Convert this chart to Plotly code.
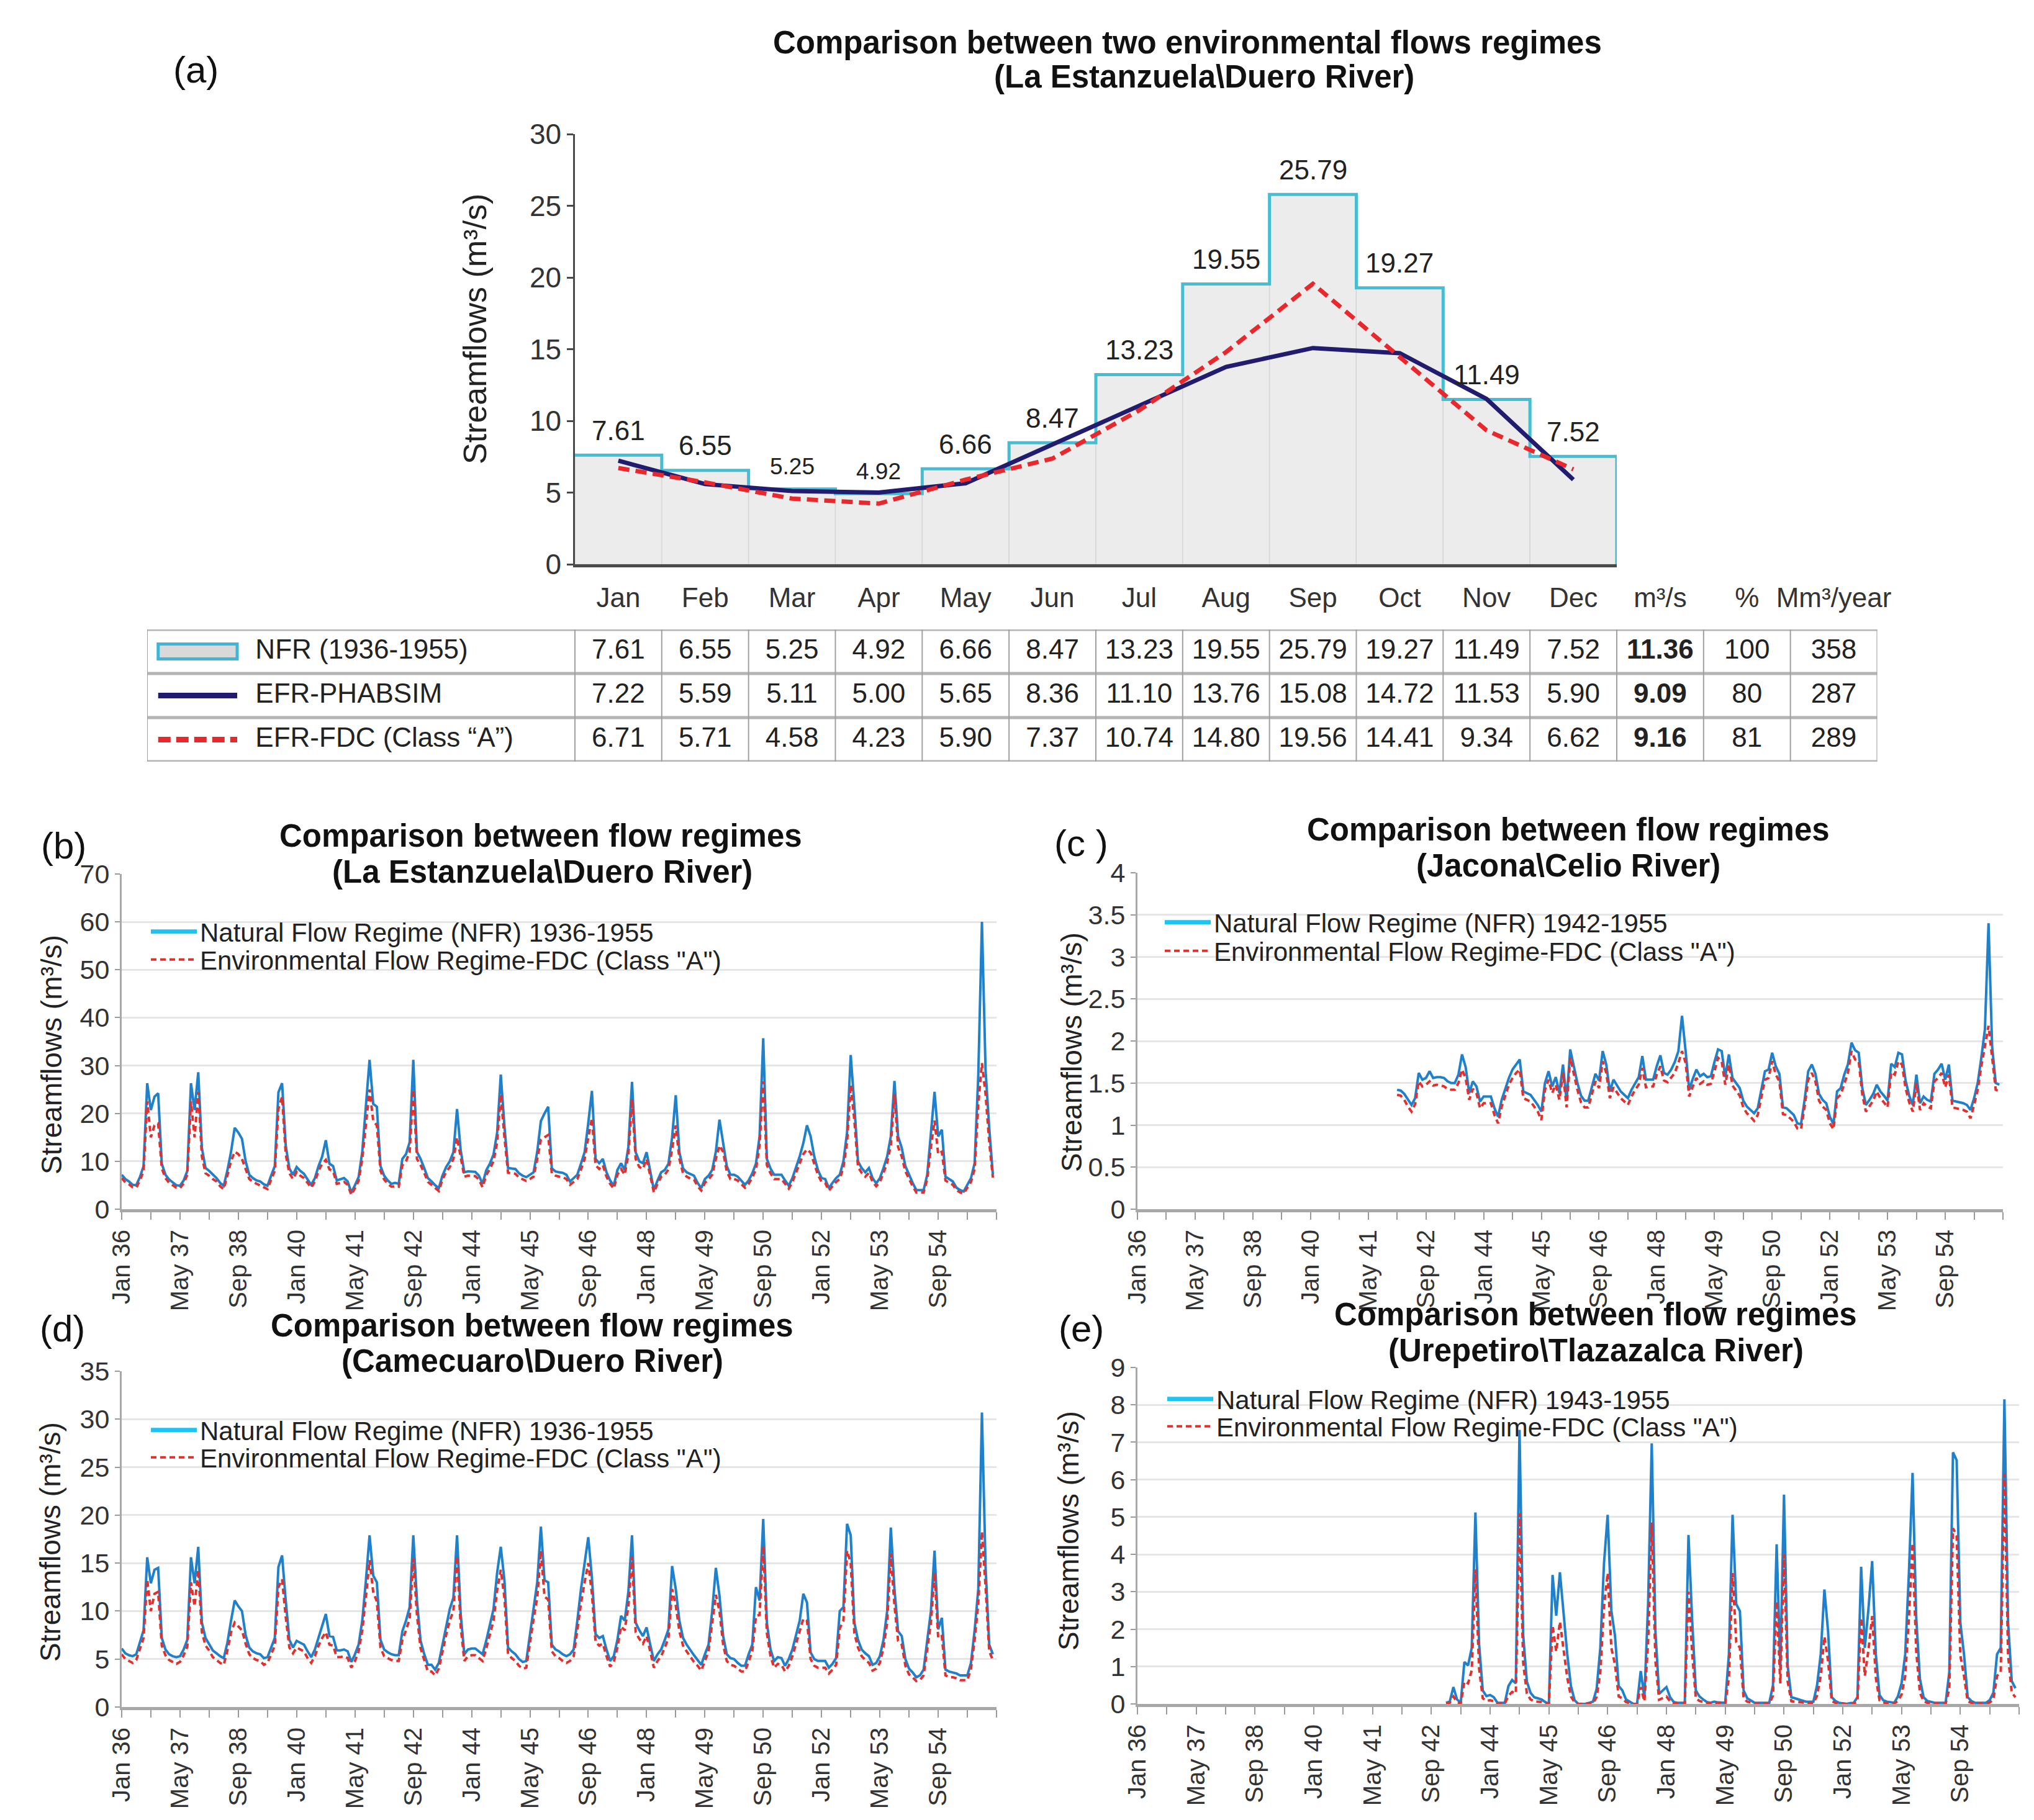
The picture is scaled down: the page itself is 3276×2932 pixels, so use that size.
import plotly.graph_objects as go

W, H = 3276, 2932
PAD = 8  # default body margin of the html page
FW, FH = W - 2 * PAD, H - 2 * PAD
FONT = 'Liberation Sans, Arial, Helvetica, sans-serif'


def fx(p):
    return (p - PAD) / FW


def fy(p):
    return 1 - (p - PAD) / FH


# ---------------- (a) monthly regime data ----------------
months = ['Jan', 'Feb', 'Mar', 'Apr', 'May', 'Jun', 'Jul', 'Aug', 'Sep', 'Oct', 'Nov', 'Dec']
unit_cols = ['m³/s', '%', 'Mm³/year']
nfr_a = [7.61, 6.55, 5.25, 4.92, 6.66, 8.47, 13.23, 19.55, 25.79, 19.27, 11.49, 7.52]
phabsim_a = [7.22, 5.59, 5.11, 5.00, 5.65, 8.36, 11.10, 13.76, 15.08, 14.72, 11.53, 5.90]
fdc_a = [6.71, 5.71, 4.58, 4.23, 5.90, 7.37, 10.74, 14.80, 19.56, 14.41, 9.34, 6.62]
row_names = ['NFR (1936-1955)', 'EFR-PHABSIM', 'EFR-FDC (Class “A”)']
row_mean = ['11.36', '9.09', '9.16']
row_pct = ['100', '80', '81']
row_vol = ['358', '287', '289']

# ---------------- time-series tick labels ----------------
ts_ticklabels = ['Jan 36', 'May 37', 'Sep 38', 'Jan 40', 'May 41', 'Sep 42', 'Jan 44', 'May 45',
                 'Sep 46', 'Jan 48', 'May 49', 'Sep 50', 'Jan 52', 'May 53', 'Sep 54']
first_year = 1936

# ---------------- (b) La Estanzuela \ Duero (1936-1955) ----------------
nfr_b = [
    7.2, 6.3, 5.8, 5.1, 5.0, 6.7, 9.0, 26.3, 20.7, 23.5, 24.2, 9.5,
    7.2, 6.2, 5.6, 5.0, 4.9, 6.0, 8.0, 26.3, 20.7, 28.6, 12.8, 8.6,
    8.0, 7.2, 6.5, 5.5, 4.9, 8.1, 12.0, 17.0, 16.0, 14.7, 10.0, 7.2,
    6.5, 6.0, 5.8, 5.2, 4.9, 7.0, 9.0, 24.4, 26.3, 13.3, 8.5, 7.2,
    8.8, 8.0, 7.4, 6.2, 5.1, 6.5, 9.0, 11.0, 14.4, 9.5, 9.0, 6.0,
    6.2, 6.5, 5.8, 3.5, 5.0, 6.7, 12.0, 21.6, 31.2, 22.0, 21.4, 9.0,
    7.0, 6.0, 5.3, 5.5, 5.3, 10.5, 11.5, 14.0, 31.2, 12.0, 10.5, 8.6,
    6.5, 5.8, 5.0, 4.4, 7.0, 8.8, 10.0, 11.9, 20.9, 12.3, 7.7, 7.9,
    7.9, 7.8, 7.0, 5.3, 8.1, 9.5, 11.4, 16.0, 28.1, 17.4, 8.6, 8.5,
    8.4, 7.5, 7.0, 6.7, 7.2, 7.7, 12.0, 18.4, 20.0, 21.4, 8.5, 7.9,
    7.7, 7.6, 7.2, 5.8, 6.5, 7.2, 9.5, 11.9, 18.0, 24.7, 10.5, 9.6,
    10.5, 7.7, 6.0, 4.9, 8.2, 9.6, 8.2, 13.0, 26.6, 11.9, 10.0, 9.6,
    11.9, 8.2, 4.0, 6.0, 7.7, 8.2, 9.5, 15.0, 23.8, 11.9, 8.5, 7.7,
    7.3, 7.0, 5.5, 4.4, 6.3, 7.0, 8.2, 12.0, 18.7, 14.0, 9.0, 7.2,
    7.2, 6.8, 6.0, 5.1, 6.0, 7.5, 9.5, 15.2, 35.7, 10.5, 8.5, 7.2,
    7.2, 7.2, 6.0, 4.9, 6.5, 8.6, 11.0, 13.8, 17.5, 15.2, 11.0, 8.2,
    6.5, 6.3, 4.4, 5.5, 6.5, 7.2, 10.0, 16.0, 32.2, 21.7, 10.0, 8.6,
    7.7, 8.6, 6.5, 5.4, 6.5, 8.6, 11.0, 15.2, 26.8, 15.2, 12.8, 9.0,
    7.2, 5.5, 4.0, 4.0, 4.0, 7.2, 15.2, 24.5, 15.2, 16.6, 6.8, 6.3,
    5.8, 4.5, 4.0, 3.7, 5.0, 6.5, 9.6, 28.0, 60.0, 29.0, 17.0, 7.2,
]
efr_b = [
    6.5, 5.6, 5.2, 4.6, 4.5, 6.0, 8.0, 22.5, 15.0, 17.5, 17.9, 8.5,
    6.5, 5.5, 5.0, 4.5, 4.4, 5.4, 7.2, 22.5, 15.0, 24.5, 11.0, 7.5,
    7.0, 6.3, 5.8, 4.8, 4.2, 7.2, 10.0, 12.0, 11.5, 10.5, 8.5, 6.3,
    5.7, 5.3, 5.0, 4.6, 4.2, 6.2, 8.0, 21.0, 23.5, 11.5, 7.5, 6.3,
    7.8, 7.0, 6.5, 5.5, 4.5, 5.8, 8.0, 9.5, 10.3, 8.3, 8.0, 5.3,
    5.5, 5.7, 5.1, 3.0, 4.4, 5.9, 10.5, 18.0, 25.0, 18.5, 17.5, 8.0,
    6.2, 5.3, 4.7, 4.8, 4.7, 9.2, 10.0, 12.0, 25.0, 10.5, 9.2, 7.6,
    5.7, 5.1, 4.4, 3.8, 6.2, 7.8, 8.8, 10.5, 15.0, 10.8, 6.8, 7.0,
    7.0, 6.9, 6.2, 4.6, 7.1, 8.4, 10.0, 14.0, 24.0, 15.0, 7.6, 7.5,
    7.4, 6.6, 6.2, 5.9, 6.3, 6.8, 10.5, 14.5, 15.0, 15.5, 7.5, 7.0,
    6.8, 6.7, 6.3, 5.1, 5.7, 6.3, 8.3, 10.5, 15.0, 19.0, 9.2, 8.4,
    9.2, 6.8, 5.3, 4.3, 7.2, 8.4, 7.2, 11.4, 23.0, 10.5, 8.8, 8.4,
    10.5, 7.2, 3.5, 5.3, 6.8, 7.2, 8.3, 12.5, 17.5, 10.5, 7.5, 6.8,
    6.4, 6.2, 4.8, 3.9, 5.5, 6.2, 7.2, 10.5, 13.3, 12.0, 7.9, 6.3,
    6.3, 6.0, 5.3, 4.5, 5.3, 6.6, 8.3, 13.4, 26.7, 9.2, 7.5, 6.3,
    6.3, 6.3, 5.3, 4.3, 5.7, 7.6, 9.7, 11.5, 12.5, 11.8, 9.5, 7.2,
    5.7, 5.5, 3.9, 4.8, 5.7, 6.3, 8.8, 14.0, 26.0, 18.5, 8.8, 7.6,
    6.8, 7.6, 5.7, 4.8, 5.7, 7.6, 9.7, 13.4, 24.0, 13.0, 11.0, 7.9,
    6.3, 4.8, 3.5, 3.5, 3.5, 6.3, 13.0, 18.5, 11.5, 12.0, 6.0, 5.5,
    5.1, 4.0, 3.5, 3.3, 4.4, 5.7, 8.4, 22.0, 30.5, 24.0, 14.0, 6.6,
]
start_b = 1936

# ---------------- (c) Jacona \ Celio (1942-1955) ----------------
nfr_c = [
    1.42, 1.41, 1.37, 1.30, 1.24, 1.32, 1.62, 1.54, 1.56, 1.64, 1.56, 1.57,
    1.57, 1.56, 1.52, 1.50, 1.50, 1.60, 1.84, 1.69, 1.38, 1.52, 1.46, 1.28,
    1.34, 1.34, 1.34, 1.20, 1.10, 1.30, 1.44, 1.56, 1.66, 1.72, 1.78, 1.40,
    1.38, 1.36, 1.30, 1.24, 1.16, 1.50, 1.64, 1.46, 1.57, 1.38, 1.72, 1.29,
    1.90, 1.70, 1.50, 1.35, 1.29, 1.29, 1.45, 1.61, 1.53, 1.88, 1.72, 1.40,
    1.54, 1.47, 1.40, 1.36, 1.32, 1.42, 1.50, 1.57, 1.82, 1.54, 1.54, 1.54,
    1.70, 1.83, 1.62, 1.60, 1.66, 1.75, 1.88, 2.30, 1.88, 1.42, 1.55, 1.66,
    1.58, 1.61, 1.57, 1.58, 1.75, 1.90, 1.88, 1.57, 1.84, 1.56, 1.50, 1.44,
    1.29, 1.22, 1.18, 1.14, 1.20, 1.42, 1.64, 1.66, 1.86, 1.70, 1.61, 1.21,
    1.20, 1.16, 1.12, 1.02, 1.01, 1.30, 1.64, 1.72, 1.61, 1.37, 1.30, 1.26,
    1.10, 1.01, 1.40, 1.44, 1.60, 1.72, 1.98, 1.89, 1.86, 1.44, 1.24, 1.30,
    1.37, 1.48, 1.40, 1.35, 1.29, 1.73, 1.69, 1.86, 1.84, 1.53, 1.35, 1.24,
    1.60, 1.26, 1.34, 1.30, 1.28, 1.61, 1.66, 1.73, 1.54, 1.72, 1.29, 1.28,
    1.27, 1.26, 1.24, 1.18, 1.32, 1.50, 1.80, 2.14, 3.40, 1.93, 1.50, 1.48,
]
efr_c = [
    1.36, 1.35, 1.30, 1.22, 1.16, 1.25, 1.52, 1.46, 1.48, 1.52, 1.47, 1.48,
    1.47, 1.46, 1.43, 1.42, 1.42, 1.50, 1.66, 1.56, 1.30, 1.43, 1.38, 1.20,
    1.26, 1.26, 1.26, 1.12, 1.02, 1.22, 1.36, 1.48, 1.56, 1.62, 1.66, 1.32,
    1.30, 1.28, 1.22, 1.16, 1.06, 1.42, 1.54, 1.38, 1.48, 1.30, 1.62, 1.21,
    1.80, 1.60, 1.42, 1.27, 1.21, 1.21, 1.37, 1.52, 1.44, 1.76, 1.62, 1.32,
    1.45, 1.39, 1.32, 1.28, 1.24, 1.34, 1.42, 1.48, 1.68, 1.45, 1.46, 1.46,
    1.60, 1.70, 1.53, 1.51, 1.56, 1.62, 1.74, 1.88, 1.74, 1.34, 1.46, 1.56,
    1.49, 1.52, 1.48, 1.49, 1.64, 1.80, 1.76, 1.48, 1.72, 1.47, 1.41, 1.35,
    1.21, 1.14, 1.10, 1.05, 1.12, 1.34, 1.54, 1.56, 1.76, 1.60, 1.52, 1.13,
    1.12, 1.08, 1.04, 0.96, 0.95, 1.22, 1.54, 1.62, 1.52, 1.29, 1.22, 1.18,
    1.02, 0.95, 1.32, 1.36, 1.50, 1.62, 1.88, 1.78, 1.76, 1.36, 1.16, 1.22,
    1.29, 1.40, 1.32, 1.27, 1.21, 1.63, 1.60, 1.76, 1.72, 1.44, 1.27, 1.16,
    1.50, 1.18, 1.26, 1.22, 1.20, 1.52, 1.56, 1.62, 1.45, 1.60, 1.21, 1.20,
    1.19, 1.18, 1.16, 1.08, 1.24, 1.42, 1.70, 1.95, 2.18, 1.80, 1.42, 1.40,
]
start_c = 1942

# ---------------- (d) Camecuaro \ Duero (1936-1955) ----------------
nfr_d = [
    6.1, 5.6, 5.4, 5.3, 5.5, 6.7, 8.0, 15.6, 12.9, 14.3, 14.5, 7.2,
    6.0, 5.5, 5.3, 5.2, 5.3, 6.0, 7.0, 15.6, 12.9, 16.7, 8.8, 7.2,
    6.6, 5.9, 5.6, 5.3, 5.1, 6.7, 9.0, 11.1, 10.5, 10.0, 7.5, 6.2,
    5.8, 5.6, 5.5, 5.1, 5.2, 6.2, 7.2, 14.6, 15.8, 11.1, 7.0, 6.2,
    6.9, 6.7, 6.5, 5.8, 5.2, 6.0, 7.2, 8.5, 9.7, 7.4, 7.3, 5.9,
    5.9, 6.0, 5.8, 4.7, 5.5, 6.5, 9.0, 13.2, 17.9, 13.7, 13.0, 7.0,
    6.0, 5.7, 5.5, 5.4, 5.4, 7.9, 9.0, 10.4, 17.9, 11.1, 6.9, 5.5,
    4.4, 4.4, 3.9, 4.6, 6.5, 8.5, 10.2, 11.4, 17.9, 9.7, 5.5, 6.0,
    6.1, 6.1, 5.8, 5.5, 6.9, 8.5, 10.2, 14.0, 16.7, 13.2, 6.2, 5.8,
    5.5, 5.0, 4.7, 4.8, 7.6, 10.4, 13.0, 18.8, 13.2, 13.0, 6.5, 6.0,
    5.8, 5.5, 5.3, 5.5, 6.0, 9.0, 12.3, 15.0, 17.7, 13.5, 7.6, 7.2,
    7.4, 6.0, 4.8, 5.3, 7.0, 9.5, 9.0, 12.0, 17.9, 8.8, 8.0, 7.4,
    8.3, 6.5, 4.8, 5.5, 6.0, 7.0, 8.1, 14.7, 12.3, 9.0, 7.2, 6.5,
    5.9, 5.4, 4.9, 4.4, 5.5, 6.5, 10.0, 14.5, 11.6, 7.4, 5.5, 5.1,
    5.0, 4.6, 4.3, 4.3, 5.5, 6.5, 12.5, 11.1, 19.6, 8.8, 6.0, 4.8,
    5.2, 5.1, 4.3, 5.0, 6.0, 7.5, 9.0, 11.8, 10.9, 5.7, 5.0, 4.8,
    4.8, 4.8, 4.1, 4.5, 5.1, 10.0, 10.4, 19.1, 17.9, 8.8, 7.0, 6.0,
    5.6, 5.3, 4.4, 4.6, 5.3, 7.0, 10.0, 18.7, 12.3, 7.9, 7.4, 5.0,
    4.0, 3.6, 3.1, 3.3, 3.9, 7.0, 10.0, 16.3, 8.1, 9.3, 3.9, 3.7,
    3.6, 3.5, 3.3, 3.3, 3.3, 4.6, 8.0, 12.3, 30.7, 14.6, 6.5, 5.5,
]
efr_d = [
    5.5, 5.0, 4.8, 4.6, 4.9, 6.0, 7.2, 13.3, 10.0, 11.8, 12.0, 6.4,
    5.4, 4.9, 4.7, 4.5, 4.7, 5.4, 6.3, 13.0, 10.5, 14.3, 7.8, 6.4,
    5.9, 5.2, 4.9, 4.6, 4.4, 5.9, 7.8, 8.8, 8.4, 8.0, 6.6, 5.5,
    5.1, 4.9, 4.8, 4.4, 4.6, 5.5, 6.4, 12.5, 13.3, 9.4, 6.2, 5.6,
    6.2, 6.0, 5.8, 5.1, 4.6, 5.3, 6.4, 7.2, 7.8, 6.5, 6.4, 5.2,
    5.2, 5.3, 5.1, 4.1, 4.8, 5.8, 8.0, 11.5, 15.3, 12.0, 11.0, 6.2,
    5.3, 5.1, 4.9, 4.8, 4.8, 7.0, 8.0, 9.2, 15.5, 9.6, 6.1, 4.9,
    3.7, 3.7, 3.3, 4.0, 5.8, 7.5, 9.0, 10.0, 15.7, 8.4, 4.8, 5.3,
    5.4, 5.4, 5.1, 4.8, 6.1, 7.5, 9.0, 12.2, 14.3, 11.4, 5.5, 5.1,
    4.8, 4.3, 4.0, 4.1, 6.7, 9.2, 11.4, 16.3, 11.5, 11.2, 5.8, 5.3,
    5.1, 4.8, 4.6, 4.8, 5.3, 8.0, 10.8, 13.0, 15.0, 11.8, 6.8, 6.4,
    6.6, 5.3, 4.2, 4.7, 6.2, 8.4, 8.0, 10.5, 15.7, 7.8, 7.1, 6.6,
    7.4, 5.8, 4.1, 4.8, 5.3, 6.2, 7.2, 12.3, 10.6, 7.9, 6.4, 5.8,
    5.2, 4.7, 4.3, 3.8, 4.8, 5.8, 8.8, 11.7, 10.0, 6.5, 4.8, 4.4,
    4.3, 4.0, 3.7, 3.7, 4.8, 5.8, 9.5, 9.6, 16.8, 7.7, 5.3, 4.1,
    4.5, 4.4, 3.7, 4.3, 5.3, 6.6, 7.9, 9.2, 9.0, 5.0, 4.3, 4.1,
    4.1, 4.1, 3.5, 3.9, 4.4, 8.2, 9.0, 16.3, 15.0, 7.7, 6.2, 5.3,
    4.9, 4.6, 3.8, 4.0, 4.6, 6.2, 8.8, 16.0, 10.6, 6.9, 6.5, 4.3,
    3.4, 3.1, 2.7, 2.8, 3.3, 6.2, 8.8, 14.0, 7.2, 7.4, 3.3, 3.1,
    3.1, 3.0, 2.8, 2.8, 2.8, 4.0, 7.0, 10.8, 18.3, 12.5, 5.8, 4.9,
]
start_d = 1936

# ---------------- (e) Urepetiro \ Tlazazalca (1943-1955) ----------------
nfr_e = [
    0.03, 0.06, 0.45, 0.12, 0.03, 1.12, 1.03, 1.50, 5.12, 1.60, 0.36, 0.21,
    0.24, 0.18, 0.03, 0.03, 0.03, 0.48, 0.64, 0.55, 7.33, 1.85, 0.60, 0.30,
    0.18, 0.15, 0.12, 0.05, 0.00, 3.45, 2.36, 3.52, 2.40, 1.33, 0.48, 0.10,
    0.00, 0.00, 0.00, 0.03, 0.06, 0.40, 1.50, 3.76, 5.06, 2.50, 1.82, 0.48,
    0.36, 0.12, 0.05, 0.00, 0.00, 0.88, 0.18, 2.67, 6.97, 1.94, 0.27, 0.36,
    0.45, 0.18, 0.05, 0.03, 0.03, 0.03, 4.52, 2.24, 0.36, 0.20, 0.12, 0.05,
    0.03, 0.06, 0.04, 0.03, 0.03, 1.33, 5.06, 2.67, 2.48, 0.36, 0.15, 0.09,
    0.03, 0.03, 0.03, 0.03, 0.03, 0.50, 4.27, 0.97, 5.60, 1.03, 0.18, 0.15,
    0.12, 0.08, 0.06, 0.06, 0.06, 0.50, 1.33, 3.06, 1.94, 0.18, 0.08, 0.03,
    0.02, 0.00, 0.02, 0.03, 0.18, 3.67, 1.50, 2.55, 3.82, 1.33, 0.24, 0.10,
    0.06, 0.04, 0.03, 0.20, 0.55, 1.33, 3.50, 6.18, 2.30, 0.67, 0.18, 0.08,
    0.05, 0.03, 0.03, 0.03, 0.03, 0.85, 6.73, 6.52, 2.18, 1.33, 0.18, 0.08,
    0.03, 0.03, 0.03, 0.03, 0.10, 0.30, 1.33, 1.50, 8.15, 2.18, 0.61, 0.42,
]
efr_e = [
    0.01, 0.03, 0.20, 0.05, 0.01, 0.60, 0.55, 0.90, 3.60, 0.95, 0.15, 0.08,
    0.10, 0.07, 0.01, 0.01, 0.01, 0.22, 0.32, 0.28, 5.10, 1.10, 0.28, 0.12,
    0.07, 0.06, 0.05, 0.02, 0.00, 2.10, 1.40, 2.20, 1.45, 0.70, 0.20, 0.04,
    0.00, 0.00, 0.00, 0.01, 0.02, 0.18, 0.85, 2.60, 3.50, 1.50, 1.05, 0.20,
    0.15, 0.05, 0.02, 0.00, 0.00, 0.45, 0.07, 1.65, 4.85, 1.15, 0.11, 0.15,
    0.20, 0.07, 0.02, 0.01, 0.01, 0.01, 3.00, 1.35, 0.15, 0.08, 0.05, 0.02,
    0.01, 0.03, 0.02, 0.01, 0.01, 0.70, 3.50, 1.65, 1.50, 0.15, 0.06, 0.04,
    0.01, 0.01, 0.01, 0.01, 0.01, 0.22, 2.75, 0.55, 4.00, 0.60, 0.07, 0.06,
    0.05, 0.03, 0.02, 0.02, 0.02, 0.22, 0.75, 1.80, 1.15, 0.07, 0.03, 0.01,
    0.01, 0.00, 0.01, 0.01, 0.07, 2.30, 0.75, 1.45, 2.35, 0.70, 0.10, 0.04,
    0.02, 0.02, 0.01, 0.08, 0.25, 0.75, 2.30, 4.30, 1.40, 0.30, 0.07, 0.03,
    0.02, 0.01, 0.01, 0.01, 0.01, 0.40, 4.70, 4.50, 1.30, 0.75, 0.07, 0.03,
    0.01, 0.01, 0.01, 0.01, 0.04, 0.12, 0.75, 0.85, 6.15, 1.30, 0.30, 0.18,
]
start_e = 1943

# ============================================================
fig = go.Figure()

# ---- (a) step/bar chart ----
xc = [i + 0.5 for i in range(len(months))]
fig.add_trace(go.Bar(x=xc, y=nfr_a, width=1, xaxis='x', yaxis='y', showlegend=False,
                     marker=dict(color='#ececec', line=dict(color='#d6d6d6', width=1.5)),
                     hoverinfo='skip'))
step_x = list(range(len(nfr_a) + 1)) + [len(nfr_a)]
step_y = nfr_a + [nfr_a[-1], 0]
fig.add_trace(go.Scatter(x=step_x, y=step_y, mode='lines', xaxis='x', yaxis='y', showlegend=False,
                         line=dict(color='#45bdd3', width=5, shape='hv'), hoverinfo='skip'))
fig.add_trace(go.Scatter(x=xc, y=phabsim_a, mode='lines', xaxis='x', yaxis='y', showlegend=False,
                         line=dict(color='#211c6e', width=7), hoverinfo='skip'))
fig.add_trace(go.Scatter(x=xc, y=fdc_a, mode='lines', xaxis='x', yaxis='y', showlegend=False,
                         line=dict(color='#e8282c', width=7, dash='18px,10px'), hoverinfo='skip'))

annotations = []
for i, v in enumerate(nfr_a):
    small = v < 5.5
    annotations.append(dict(x=xc[i], y=v, xref='x', yref='y', text=f'{v:.2f}', showarrow=False,
                            yanchor='middle', yshift=36 if small else 40,
                            font=dict(size=37 if small else 44, color='#222')))

# ---- (a) table ----
tbl_x, tbl_y, tbl_t = [], [], []
for r, vals in enumerate([nfr_a, phabsim_a, fdc_a]):
    for c, v in enumerate(vals):
        tbl_x.append(xc[c])
        tbl_y.append(r)
        tbl_t.append(f'{v:.2f}')
    for j, t in enumerate([f'<b>{row_mean[r]}</b>', row_pct[r], row_vol[r]]):
        tbl_x.append(len(months) + j + 0.5)
        tbl_y.append(r)
        tbl_t.append(t)
fig.add_trace(go.Scatter(x=tbl_x, y=tbl_y, text=tbl_t, mode='text', xaxis='x2', yaxis='y2',
                         showlegend=False, textfont=dict(size=44, color='#222'), hoverinfo='skip'))
fig.add_trace(go.Scatter(x=[-3.68] * len(row_names), y=list(range(len(row_names))), text=row_names,
                         mode='text', textposition='middle right', xaxis='x2', yaxis='y2',
                         showlegend=False, textfont=dict(size=44, color='#222'), hoverinfo='skip'))

TL, TR = -4.927, 15
shapes = []
for yy in [-0.5, 0.5, 1.5, 2.5]:
    shapes.append(dict(type='line', xref='x2', yref='y2', x0=TL, x1=TR, y0=yy, y1=yy,
                       line=dict(color='#b4b4b4', width=5)))
for xx in [TL] + list(range(0, 16)):
    shapes.append(dict(type='line', xref='x2', yref='y2', x0=xx, x1=xx, y0=-0.5, y1=2.5,
                       line=dict(color='#a0a0a0', width=2)))
# legend symbols inside the table
shapes.append(dict(type='rect', xref='x2', yref='y2', x0=-4.80, x1=-3.89, y0=-0.17, y1=0.17,
                   fillcolor='#d9d9d9', line=dict(color='#3fb6d8', width=5)))
shapes.append(dict(type='line', xref='x2', yref='y2', x0=-4.80, x1=-3.89, y0=1, y1=1,
                   line=dict(color='#211c6e', width=9)))
shapes.append(dict(type='line', xref='x2', yref='y2', x0=-4.80, x1=-3.89, y0=2, y1=2,
                   line=dict(color='#e8282c', width=9, dash='20px,9px')))


# ---- time series panels ----
def add_ts(nfr, efr, start, xa, ya, leg_nfr, leg_efr, label_years):
    off = (start - first_year) * 12
    xs = list(range(off, off + len(nfr)))
    fig.add_trace(go.Scatter(x=[None], y=[None], mode='lines', xaxis=xa, yaxis=ya, legend=leg_nfr,
                             name=f'Natural Flow Regime (NFR) {label_years}',
                             line=dict(color='#1cc3f3', width=7)))
    fig.add_trace(go.Scatter(x=xs, y=nfr, mode='lines', xaxis=xa, yaxis=ya, showlegend=False,
                             line=dict(color='#1f80cc', width=4), hoverinfo='skip'))
    fig.add_trace(go.Scatter(x=xs, y=efr, mode='lines', xaxis=xa, yaxis=ya, legend=leg_efr,
                             name='Environmental Flow Regime-FDC (Class "A")',
                             line=dict(color='#e2302f', width=4, dash='9px,6px'), hoverinfo='skip'))


add_ts(nfr_b, efr_b, start_b, 'x3', 'y3', 'legend', 'legend2', '1936-1955')
add_ts(nfr_c, efr_c, start_c, 'x4', 'y4', 'legend3', 'legend4', '1942-1955')
add_ts(nfr_d, efr_d, start_d, 'x5', 'y5', 'legend5', 'legend6', '1936-1955')
add_ts(nfr_e, efr_e, start_e, 'x6', 'y6', 'legend7', 'legend8', '1943-1955')

n_months = len(nfr_b)
major_vals = [16 * i for i in range(len(ts_ticklabels))]
minor_vals = [v for v in range(0, n_months + 1, 8) if v not in major_vals]


def ts_xaxis(dom, anchor):
    return dict(domain=dom, anchor=anchor, range=[0, n_months], tickmode='array',
                tickvals=major_vals, ticktext=ts_ticklabels, tickangle=-90,
                ticks='outside', ticklen=12, tickwidth=2, tickcolor='#9a9a9a',
                minor=dict(tickmode='array', tickvals=minor_vals, ticks='outside', ticklen=12,
                           tickwidth=2, tickcolor='#9a9a9a', showgrid=False),
                showline=True, linecolor='#a8a8a8', linewidth=5, showgrid=False, zeroline=False,
                tickfont=dict(size=40, color='#333'), automargin=False)


def ts_yaxis(dom, anchor, ymax, dt):
    return dict(domain=dom, anchor=anchor, range=[0, ymax], dtick=dt, tick0=0,
                showgrid=True, gridcolor='#e6e6e6', gridwidth=3, zeroline=False,
                showline=True, linecolor='#a8a8a8', linewidth=3,
                ticks='outside', ticklen=8, tickwidth=2, tickcolor='#9a9a9a',
                tickfont=dict(size=43, color='#333'), automargin=False)


def leg(xp, yp):
    return dict(x=fx(xp), y=fy(yp), xanchor='left', yanchor='middle', bgcolor='rgba(0,0,0,0)',
                font=dict(size=42, color='#222', family=FONT), itemwidth=74, tracegroupgap=0,
                borderwidth=0)


# titles (one annotation per line), panel labels, y titles
title_font = dict(size=51, color='#111', family=FONT)
for txt, x, y in [
    ('Comparison between two environmental flows regimes', 1913, 68),
    ('(La Estanzuela\\Duero River)', 1939, 124),
    ('Comparison between flow regimes', 871, 1346),
    ('(La Estanzuela\\Duero River)', 873, 1404),
    ('Comparison between flow regimes', 2526, 1337),
    ('(Jacona\\Celio River)', 2526, 1394),
    ('Comparison between flow regimes', 857, 2135),
    ('(Camecuaro\\Duero River)', 857, 2192),
    ('Comparison between flow regimes', 2570, 2117),
    ('(Urepetiro\\Tlazazalca River)', 2570, 2175),
]:
    annotations.append(dict(x=fx(x), y=fy(y), xref='paper', yref='paper', text=f'<b>{txt}</b>',
                            showarrow=False, xanchor='center', yanchor='middle', font=title_font))

for txt, x, y in [('(a)', 315, 113), ('(b)', 102, 1362), ('(c )', 1741, 1359),
                  ('(d)', 100, 2140), ('(e)', 1741, 2140)]:
    annotations.append(dict(x=fx(x), y=fy(y), xref='paper', yref='paper', text=txt, showarrow=False,
                            xanchor='center', yanchor='middle', font=dict(size=60, color='#111')))

ytitle = 'Streamflows (m³/s)'
for x, y, s in [(765, 530, 52), (83, 1699, 46), (1726, 1695, 46), (81, 2484, 46), (1721, 2466, 46)]:
    annotations.append(dict(x=fx(x), y=fy(y), xref='paper', yref='paper', text=ytitle,
                            showarrow=False, textangle=-90, xanchor='center', yanchor='middle',
                            font=dict(size=s, color='#222')))

fig.update_layout(
    template='none',
    width=FW, height=FH, margin=dict(l=0, r=0, t=0, b=0),
    paper_bgcolor='white', plot_bgcolor='white',
    font=dict(family=FONT, color='#222'),
    showlegend=True,
    xaxis=dict(domain=[fx(926), fx(2604)], anchor='y', range=[0, 12], showticklabels=False,
               showgrid=False, zeroline=False, showline=True, linecolor='#4a4a4a', linewidth=5,
               ticks='', automargin=False),
    yaxis=dict(domain=[fy(909), fy(216)], anchor='x', range=[0, 30], dtick=5, tick0=0,
               showgrid=False, zeroline=False, showline=True, linecolor='#4a4a4a', linewidth=2.5,
               ticks='outside', ticklen=10, tickwidth=2.5, tickcolor='#4a4a4a',
               tickfont=dict(size=46, color='#333'), automargin=False),
    xaxis2=dict(domain=[fx(237), fx(3023.5)], anchor='y2', range=[TL, TR], side='top',
                tickmode='array', tickvals=[i + 0.5 for i in range(len(months) + len(unit_cols))],
                ticktext=months + unit_cols, ticks='', showgrid=False, zeroline=False,
                showline=False, tickfont=dict(size=44, color='#333'), ticklabelstandoff=26,
                automargin=False),
    yaxis2=dict(domain=[fy(1227), fy(1014)], anchor='x2', range=[2.5, -0.5], showticklabels=False,
                showgrid=False, zeroline=False, showline=False, ticks='', automargin=False),
    xaxis3=ts_xaxis([fx(196), fx(1605)], 'y3'),
    yaxis3=ts_yaxis([fy(1948), fy(1408)], 'x3', 70, 10),
    xaxis4=ts_xaxis([fx(1832), fx(3226)], 'y4'),
    yaxis4=ts_yaxis([fy(1948), fy(1406)], 'x4', 4, 0.5),
    xaxis5=ts_xaxis([fx(196), fx(1605)], 'y5'),
    yaxis5=ts_yaxis([fy(2750), fy(2209)], 'x5', 35, 5),
    xaxis6=ts_xaxis([fx(1832), fx(3252)], 'y6'),
    yaxis6=ts_yaxis([fy(2745), fy(2203)], 'x6', 9, 1),
    legend=leg(238, 1501),
    legend2=leg(238, 1546),
    legend3=leg(1871, 1486),
    legend4=leg(1871, 1532),
    legend5=leg(238, 2304),
    legend6=leg(238, 2348),
    legend7=leg(1875, 2254),
    legend8=leg(1875, 2298),
    shapes=shapes,
    annotations=annotations,
)

fig.write_html('out.html')
